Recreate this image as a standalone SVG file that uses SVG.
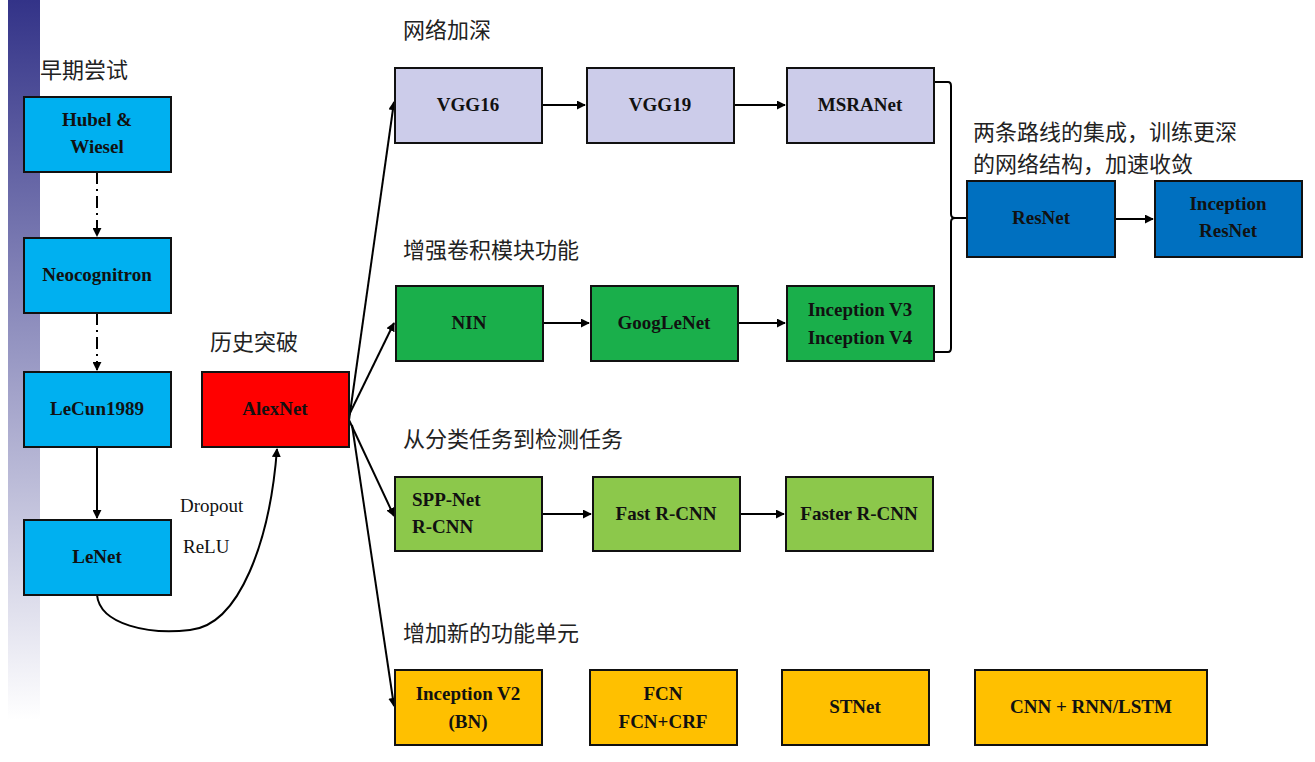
<svg xmlns="http://www.w3.org/2000/svg" width="1315" height="762" viewBox="0 0 1315 762">
<defs>
<linearGradient id="bar" x1="0" y1="0" x2="0" y2="1"><stop offset="0" stop-color="#333388"/><stop offset="0.5" stop-color="#9999c4"/><stop offset="1" stop-color="#ffffff"/></linearGradient>
<marker id="ah" viewBox="0 0 10 10" refX="9" refY="5" markerWidth="9" markerHeight="9" markerUnits="userSpaceOnUse" orient="auto"><path d="M0,0 L10,5 L0,10 z" fill="#000"/></marker>
</defs>
<style>
.b rect{stroke:#111;stroke-width:2}
.b text{font-family:"Liberation Serif",serif;font-weight:bold;font-size:19px;text-anchor:middle;fill:#111}
.c{font-family:"Noto Sans CJK SC",sans-serif;font-size:22px;fill:#222}
.l{fill:none;stroke:#000;stroke-width:2}
.a{marker-end:url(#ah)}
.s{font-family:"Liberation Serif",serif;font-size:19px;fill:#111}
</style>
<rect x="8" y="0" width="32" height="720" fill="url(#bar)"/>
<text class="c" x="40" y="78">早期尝试</text>
<text class="c" x="210" y="350">历史突破</text>
<text class="c" x="403" y="38">网络加深</text>
<text class="c" x="403" y="258">增强卷积模块功能</text>
<text class="c" x="403" y="447">从分类任务到检测任务</text>
<text class="c" x="403" y="641">增加新的功能单元</text>
<text class="c" x="973" y="140">两条路线的集成，训练更深</text>
<text class="c" x="973" y="172">的网络结构，加速收敛</text>
<g id="connectors">
<path class="l a" d="M97,172 V236" stroke-dasharray="12,5,2,5"/>
<path class="l a" d="M97,313 V370" stroke-dasharray="12,5,2,5"/>
<path class="l a" d="M97,447 V518"/>
<path class="l a" d="M97,595 C100,625 150,635 190,630 C240,625 270,540 277,449"/>
<path class="l a" d="M349,420 L394,102"/>
<path class="l a" d="M349,415 L394,323"/>
<path class="l a" d="M349,420 L394,516"/>
<path class="l a" d="M352,425 L394,706"/>
<path class="l a" d="M542,105 H585"/>
<path class="l a" d="M734,105 H785"/>
<path class="l a" d="M543,323 H589"/>
<path class="l a" d="M738,323 H785"/>
<path class="l a" d="M542,514 H591"/>
<path class="l a" d="M740,514 H784"/>
<path class="l a" d="M1115,219 H1153"/>
<path class="l" d="M934,82 H948 Q951,82 951,86 V214 Q951,218 955,218 H967 M955,218 Q951,218 951,222 V348 Q951,352 948,352 H934"/>
</g>
<text class="s" x="180" y="512">Dropout</text>
<text class="s" x="183" y="553">ReLU</text>
<g id="hubel" class="b"><rect x="24" y="97" width="147" height="75" fill="#00b0f0"/><text x="97" y="126">Hubel &amp;</text><text x="97" y="153">Wiesel</text></g>
<g id="neo" class="b"><rect x="24" y="238" width="147" height="75" fill="#00b0f0"/><text x="97" y="281">Neocognitron</text></g>
<g id="lecun" class="b"><rect x="24" y="372" width="147" height="75" fill="#00b0f0"/><text x="97" y="415">LeCun1989</text></g>
<g id="lenet" class="b"><rect x="24" y="520" width="147" height="75" fill="#00b0f0"/><text x="97" y="563">LeNet</text></g>
<g id="alexnet" class="b"><rect x="202" y="372" width="147" height="75" fill="#ff0000"/><text x="275" y="415">AlexNet</text></g>
<g id="vgg16" class="b"><rect x="395" y="68" width="147" height="75" fill="#ccccea"/><text x="468" y="111">VGG16</text></g>
<g id="vgg19" class="b"><rect x="587" y="68" width="147" height="75" fill="#ccccea"/><text x="660" y="111">VGG19</text></g>
<g id="msra" class="b"><rect x="787" y="68" width="147" height="75" fill="#ccccea"/><text x="860" y="111">MSRANet</text></g>
<g id="nin" class="b"><rect x="396" y="286" width="147" height="75" fill="#1aaf4b"/><text x="469" y="329">NIN</text></g>
<g id="goog" class="b"><rect x="591" y="286" width="147" height="75" fill="#1aaf4b"/><text x="664" y="329">GoogLeNet</text></g>
<g id="incv3" class="b"><rect x="787" y="286" width="147" height="75" fill="#1aaf4b"/><text x="860" y="316">Inception V3</text><text x="860" y="344">Inception V4</text></g>
<g id="spp" class="b"><rect x="395" y="477" width="147" height="74" fill="#8cc84b"/><text x="412" y="506" style="text-anchor:start">SPP-Net</text><text x="412" y="533" style="text-anchor:start">R-CNN</text></g>
<g id="fast" class="b"><rect x="593" y="477" width="147" height="74" fill="#8cc84b"/><text x="666" y="520">Fast R-CNN</text></g>
<g id="faster" class="b"><rect x="786" y="477" width="147" height="74" fill="#8cc84b"/><text x="859" y="520">Faster R-CNN</text></g>
<g id="incv2" class="b"><rect x="395" y="670" width="147" height="75" fill="#ffc000"/><text x="468" y="700">Inception V2</text><text x="468" y="728">(BN)</text></g>
<g id="fcn" class="b"><rect x="590" y="670" width="147" height="75" fill="#ffc000"/><text x="663" y="700">FCN</text><text x="663" y="728">FCN+CRF</text></g>
<g id="stnet" class="b"><rect x="782" y="670" width="147" height="75" fill="#ffc000"/><text x="855" y="713">STNet</text></g>
<g id="cnnrnn" class="b"><rect x="975" y="670" width="232" height="75" fill="#ffc000"/><text x="1091" y="713">CNN + RNN/LSTM</text></g>
<g id="resnet" class="b"><rect x="967" y="181" width="148" height="76" fill="#0070c0"/><text x="1041" y="224">ResNet</text></g>
<g id="incres" class="b"><rect x="1155" y="181" width="147" height="76" fill="#0070c0"/><text x="1228" y="210">Inception</text><text x="1228" y="237">ResNet</text></g>
</svg>
